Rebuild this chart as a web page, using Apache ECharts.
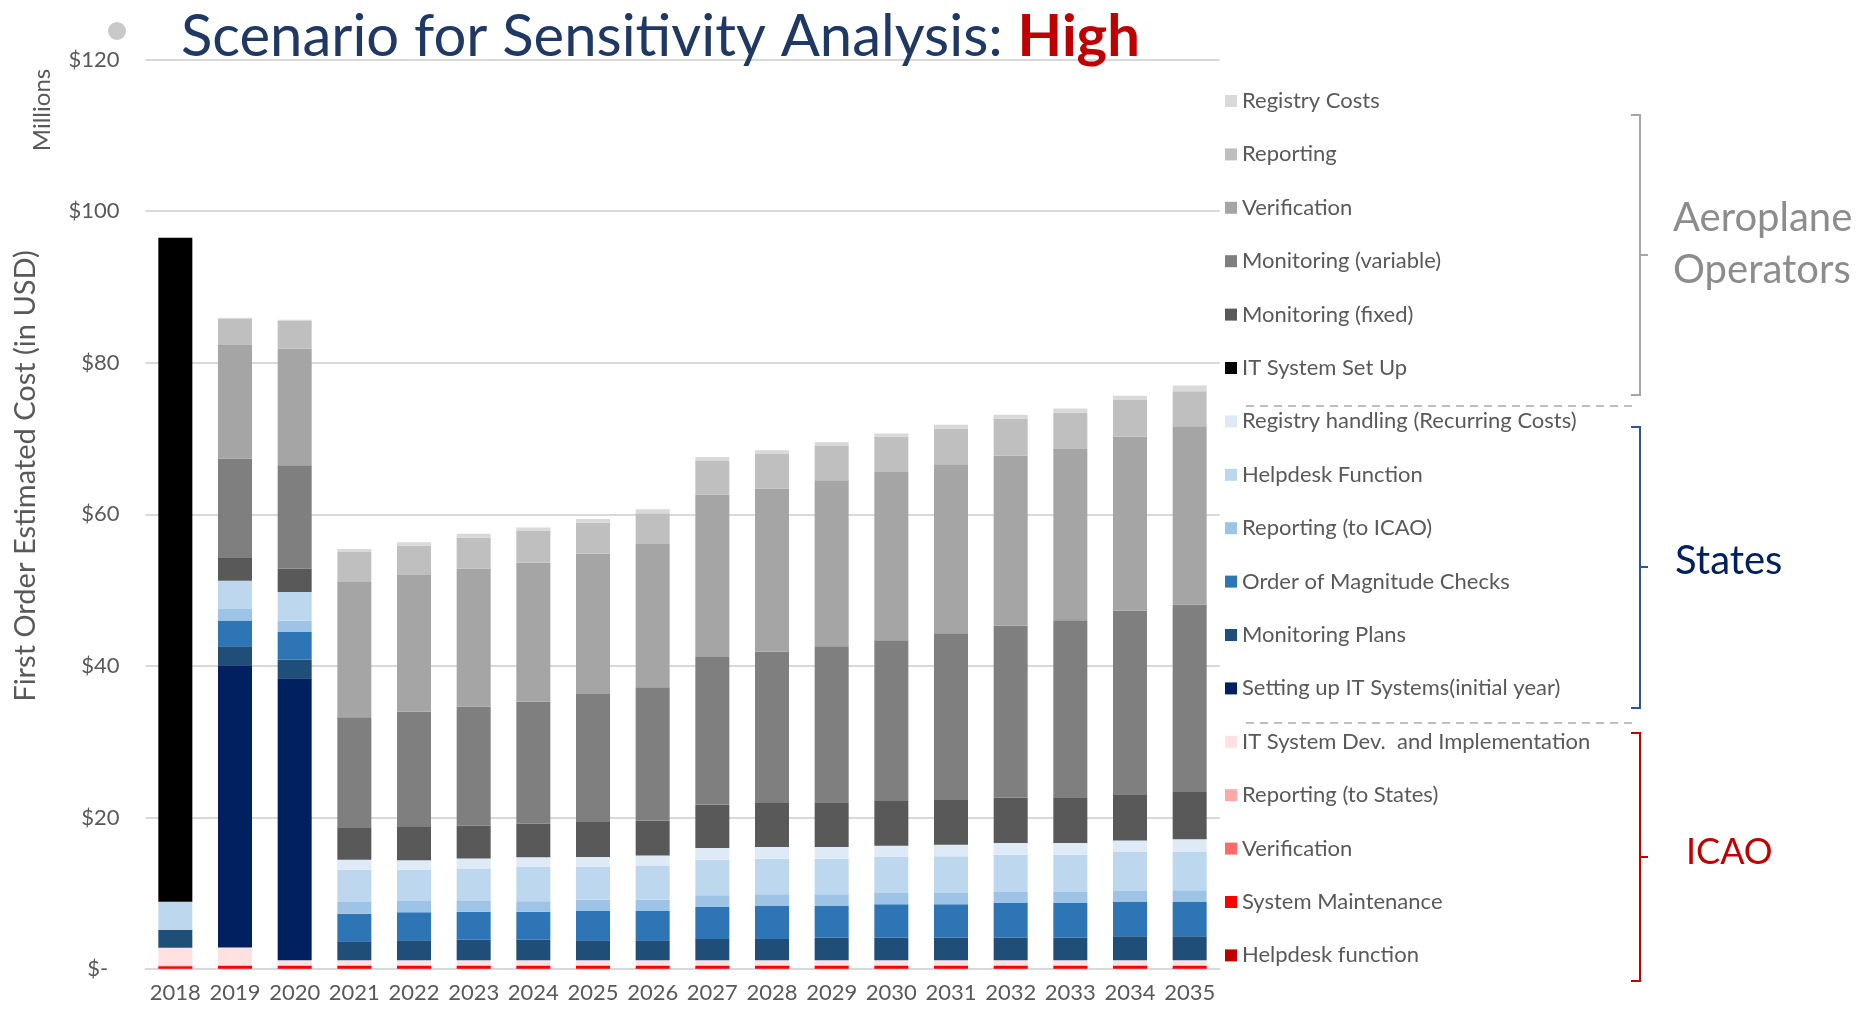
<!DOCTYPE html>
<html>
<head>
<meta charset="utf-8">
<script src="https://cdn.jsdelivr.net/npm/echarts@6/dist/echarts.min.js"></script>
<style>
  html, body { margin: 0; padding: 0; background: #fff; }
  #chart { width: 1870px; height: 1011px; }
</style>
</head>
<body>
<div id="chart"></div>
<script>
// years on the x axis
const years = ['2018', '2019', '2020', '2021', '2022', '2023', '2024', '2025', '2026',
  '2027', '2028', '2029', '2030', '2031', '2032', '2033', '2034', '2035'];

// ICAO (bottom of the stack), millions USD
const helpdeskIcao      = [0.05, 0.05, 0.05, 0.05, 0.05, 0.05, 0.05, 0.05, 0.05, 0.05, 0.05, 0.05, 0.05, 0.05, 0.05, 0.05, 0.05, 0.05];
const systemMaintenance = [0.3, 0.35, 0.35, 0.35, 0.35, 0.35, 0.35, 0.35, 0.35, 0.35, 0.35, 0.35, 0.35, 0.35, 0.35, 0.35, 0.35, 0.35];
const verificationIcao  = [0.05, 0.05, 0.05, 0.05, 0.05, 0.05, 0.05, 0.05, 0.05, 0.05, 0.05, 0.05, 0.05, 0.05, 0.05, 0.05, 0.05, 0.05];
const reportingStates   = [0.1, 0.1, 0.1, 0.1, 0.1, 0.1, 0.1, 0.1, 0.1, 0.1, 0.1, 0.1, 0.1, 0.1, 0.1, 0.1, 0.1, 0.1];
const itDev             = [2.3, 2.3, 0.6, 0.6, 0.6, 0.6, 0.6, 0.6, 0.6, 0.6, 0.6, 0.6, 0.6, 0.6, 0.6, 0.6, 0.6, 0.6];

// States
const settingUpIT       = [0, 37.24, 37.2, 0, 0, 0, 0, 0, 0, 0, 0, 0, 0, 0, 0, 0, 0, 0];
const monitoringPlans   = [2.34, 2.5, 2.5, 2.5, 2.63, 2.72, 2.7, 2.63, 2.63, 2.81, 2.81, 2.98, 2.98, 2.98, 2.98, 2.98, 3.16, 3.16];
const orderMagnitude    = [0, 3.4, 3.6, 3.65, 3.7, 3.7, 3.7, 3.86, 3.86, 4.22, 4.35, 4.18, 4.41, 4.41, 4.58, 4.58, 4.53, 4.53];
const reportingIcao     = [0, 1.5, 1.5, 1.54, 1.48, 1.4, 1.4, 1.5, 1.5, 1.54, 1.55, 1.55, 1.49, 1.49, 1.45, 1.45, 1.46, 1.55];
const helpdeskStates    = [3.73, 3.75, 3.8, 4.27, 4.15, 4.28, 4.5, 4.32, 4.5, 4.71, 4.7, 4.7, 4.75, 4.84, 4.93, 4.93, 5.14, 5.05];
const registryHandling  = [0, 0, 0, 1.3, 1.23, 1.32, 1.3, 1.32, 1.32, 1.53, 1.54, 1.54, 1.49, 1.54, 1.53, 1.53, 1.52, 1.67];

// Aeroplane operators (top of the stack)
const itSetUp           = [87.6, 0, 0, 0, 0, 0, 0, 0, 0, 0, 0, 0, 0, 0, 0, 0, 0, 0];
const monFixed          = [0, 3.1, 3.1, 4.2, 4.4, 4.35, 4.4, 4.6, 4.6, 5.7, 5.8, 5.9, 5.9, 5.9, 6.0, 6.05, 6.1, 6.23];
const monVariable       = [0, 13.0, 13.6, 14.6, 15.2, 15.7, 16.1, 16.9, 17.6, 19.5, 20.0, 20.6, 21.2, 22.0, 22.7, 23.35, 24.2, 24.76];
const verificationAO    = [0, 15.0, 15.4, 17.85, 18.05, 18.2, 18.4, 18.5, 18.9, 21.4, 21.5, 21.9, 22.2, 22.3, 22.4, 22.6, 23.0, 23.5];
const reportingAO       = [0, 3.5, 3.7, 3.95, 3.87, 4.1, 4.15, 4.14, 4.08, 4.47, 4.54, 4.52, 4.7, 4.66, 4.9, 4.8, 4.8, 4.63];
const registryCosts     = [0, 0.1, 0.1, 0.4, 0.46, 0.5, 0.45, 0.46, 0.52, 0.52, 0.5, 0.47, 0.4, 0.53, 0.5, 0.53, 0.57, 0.75];

const font = 'Lato, "Open Sans", sans-serif';

// bottom to top
const layers = [
  ['Helpdesk function', helpdeskIcao, '#c00000'],
  ['System Maintenance', systemMaintenance, '#ff0000'],
  ['Verification ', verificationIcao, '#ff6b6b'],
  ['Reporting (to States)', reportingStates, '#ffa8a8'],
  ['IT System Dev.  and Implementation', itDev, '#ffe1e1'],
  ['Setting up IT Systems(initial year)', settingUpIT, '#002060'],
  ['Monitoring Plans', monitoringPlans, '#1f4e79'],
  ['Order of Magnitude Checks', orderMagnitude, '#2e75b6'],
  ['Reporting (to ICAO)', reportingIcao, '#9dc3e6'],
  ['Helpdesk Function', helpdeskStates, '#bdd7ee'],
  ['Registry handling (Recurring Costs)', registryHandling, '#deebf7'],
  ['IT System Set Up', itSetUp, '#000000'],
  ['Monitoring (fixed)', monFixed, '#595959'],
  ['Monitoring (variable)', monVariable, '#7f7f7f'],
  ['Verification', verificationAO, '#a5a5a5'],
  ['Reporting', reportingAO, '#bfbfbf'],
  ['Registry Costs', registryCosts, '#d9d9d9']
];

const series = layers.map(function (l) {
  return {
    name: l[0],
    type: 'bar',
    stack: 'total',
    barWidth: 34,
    data: l[1],
    itemStyle: { color: l[2] }
  };
});

// a curly-ish bracket: top tick, vertical, bottom tick, middle tick
function bracket(y1, y2, ym, color) {
  return {
    type: 'polyline',
    silent: true,
    shape: { points: [[1631, y1], [1640, y1], [1640, ym], [1648, ym], [1640, ym], [1640, y2], [1631, y2]] },
    style: { stroke: color, lineWidth: 2, fill: null }
  };
}

function dashed(y) {
  return {
    type: 'line',
    silent: true,
    shape: { x1: 1246, y1: y, x2: 1633, y2: y },
    style: { stroke: '#bfbfbf', lineWidth: 2, lineDash: [8, 6] }
  };
}

const chart = echarts.init(document.getElementById('chart'));

const option = {
  animation: false,
  backgroundColor: '#fff',
  title: {
    text: '{a|Scenario for Sensitivity Analysis: }{b|High}',
    left: 176,
    top: 3,
    textStyle: {
      fontWeight: 'normal',
      rich: {
        a: { fontFamily: font, fontSize: 58, color: '#1f3864', fontWeight: 'normal' },
        b: { fontFamily: font, fontSize: 58, color: '#c00000', fontWeight: 'bold' }
      }
    }
  },
  legend: {
    orient: 'vertical',
    left: 1225,
    top: 90,
    padding: 0,
    icon: 'rect',
    itemWidth: 12,
    itemHeight: 12,
    itemGap: 31.4,
    data: layers.map(function (l) { return l[0]; }).reverse(),
    textStyle: { fontFamily: font, fontSize: 22, lineHeight: 22, color: '#595959' }
  },
  grid: {
    left: 145.5,
    right: 650.5,
    top: 59.5,
    bottom: 42
  },
  xAxis: {
    type: 'category',
    data: years,
    axisLine: { lineStyle: { color: '#d9d9d9', width: 2 } },
    axisTick: { length: 8, lineStyle: { color: '#d9d9d9', width: 2 } },
    axisLabel: { interval: 0, fontFamily: font, fontSize: 22, color: '#595959', margin: 13 }
  },
  yAxis: {
    type: 'value',
    min: 0,
    max: 120,
    interval: 20,
    axisLine: { show: false },
    axisTick: { show: false },
    splitLine: { lineStyle: { color: '#d9d9d9', width: 2 } },
    axisLabel: {
      fontFamily: font,
      fontSize: 22,
      color: '#595959',
      margin: 26,
      formatter: function (v) { return v === 0 ? '$-  ' : '$' + v; }
    }
  },
  graphic: [
    { type: 'circle', silent: true, shape: { cx: 117, cy: 31, r: 9 }, style: { fill: '#c9c9c9' } },
    {
      type: 'text', silent: true, x: 26, y: 476, rotation: Math.PI / 2,
      style: { text: 'First Order Estimated Cost (in USD)', fontFamily: font, fontSize: 29, fill: '#595959', align: 'center', verticalAlign: 'middle' }
    },
    {
      type: 'text', silent: true, x: 42, y: 110, rotation: Math.PI / 2,
      style: { text: 'Millions', fontFamily: font, fontSize: 24, fill: '#595959', align: 'center', verticalAlign: 'middle' }
    },
    dashed(406),
    dashed(723),
    bracket(115, 395, 255, '#a6a6a6'),
    bracket(427, 708, 567, '#2f5597'),
    bracket(733, 981, 857, '#c00000'),
    {
      type: 'text', silent: true, x: 1673, y: 218,
      style: { text: 'Aeroplane', fontFamily: font, fontSize: 40, fill: '#8c8c8c', verticalAlign: 'middle' }
    },
    {
      type: 'text', silent: true, x: 1673, y: 270,
      style: { text: 'Operators', fontFamily: font, fontSize: 40, fill: '#8c8c8c', verticalAlign: 'middle' }
    },
    {
      type: 'text', silent: true, x: 1675, y: 561,
      style: { text: 'States', fontFamily: font, fontSize: 40, fill: '#002060', verticalAlign: 'middle' }
    },
    {
      type: 'text', silent: true, x: 1686, y: 852,
      style: { text: 'ICAO', fontFamily: font, fontSize: 36, fill: '#c00000', verticalAlign: 'middle' }
    }
  ],
  series: series
};

chart.setOption(option);
</script>
</body>
</html>
